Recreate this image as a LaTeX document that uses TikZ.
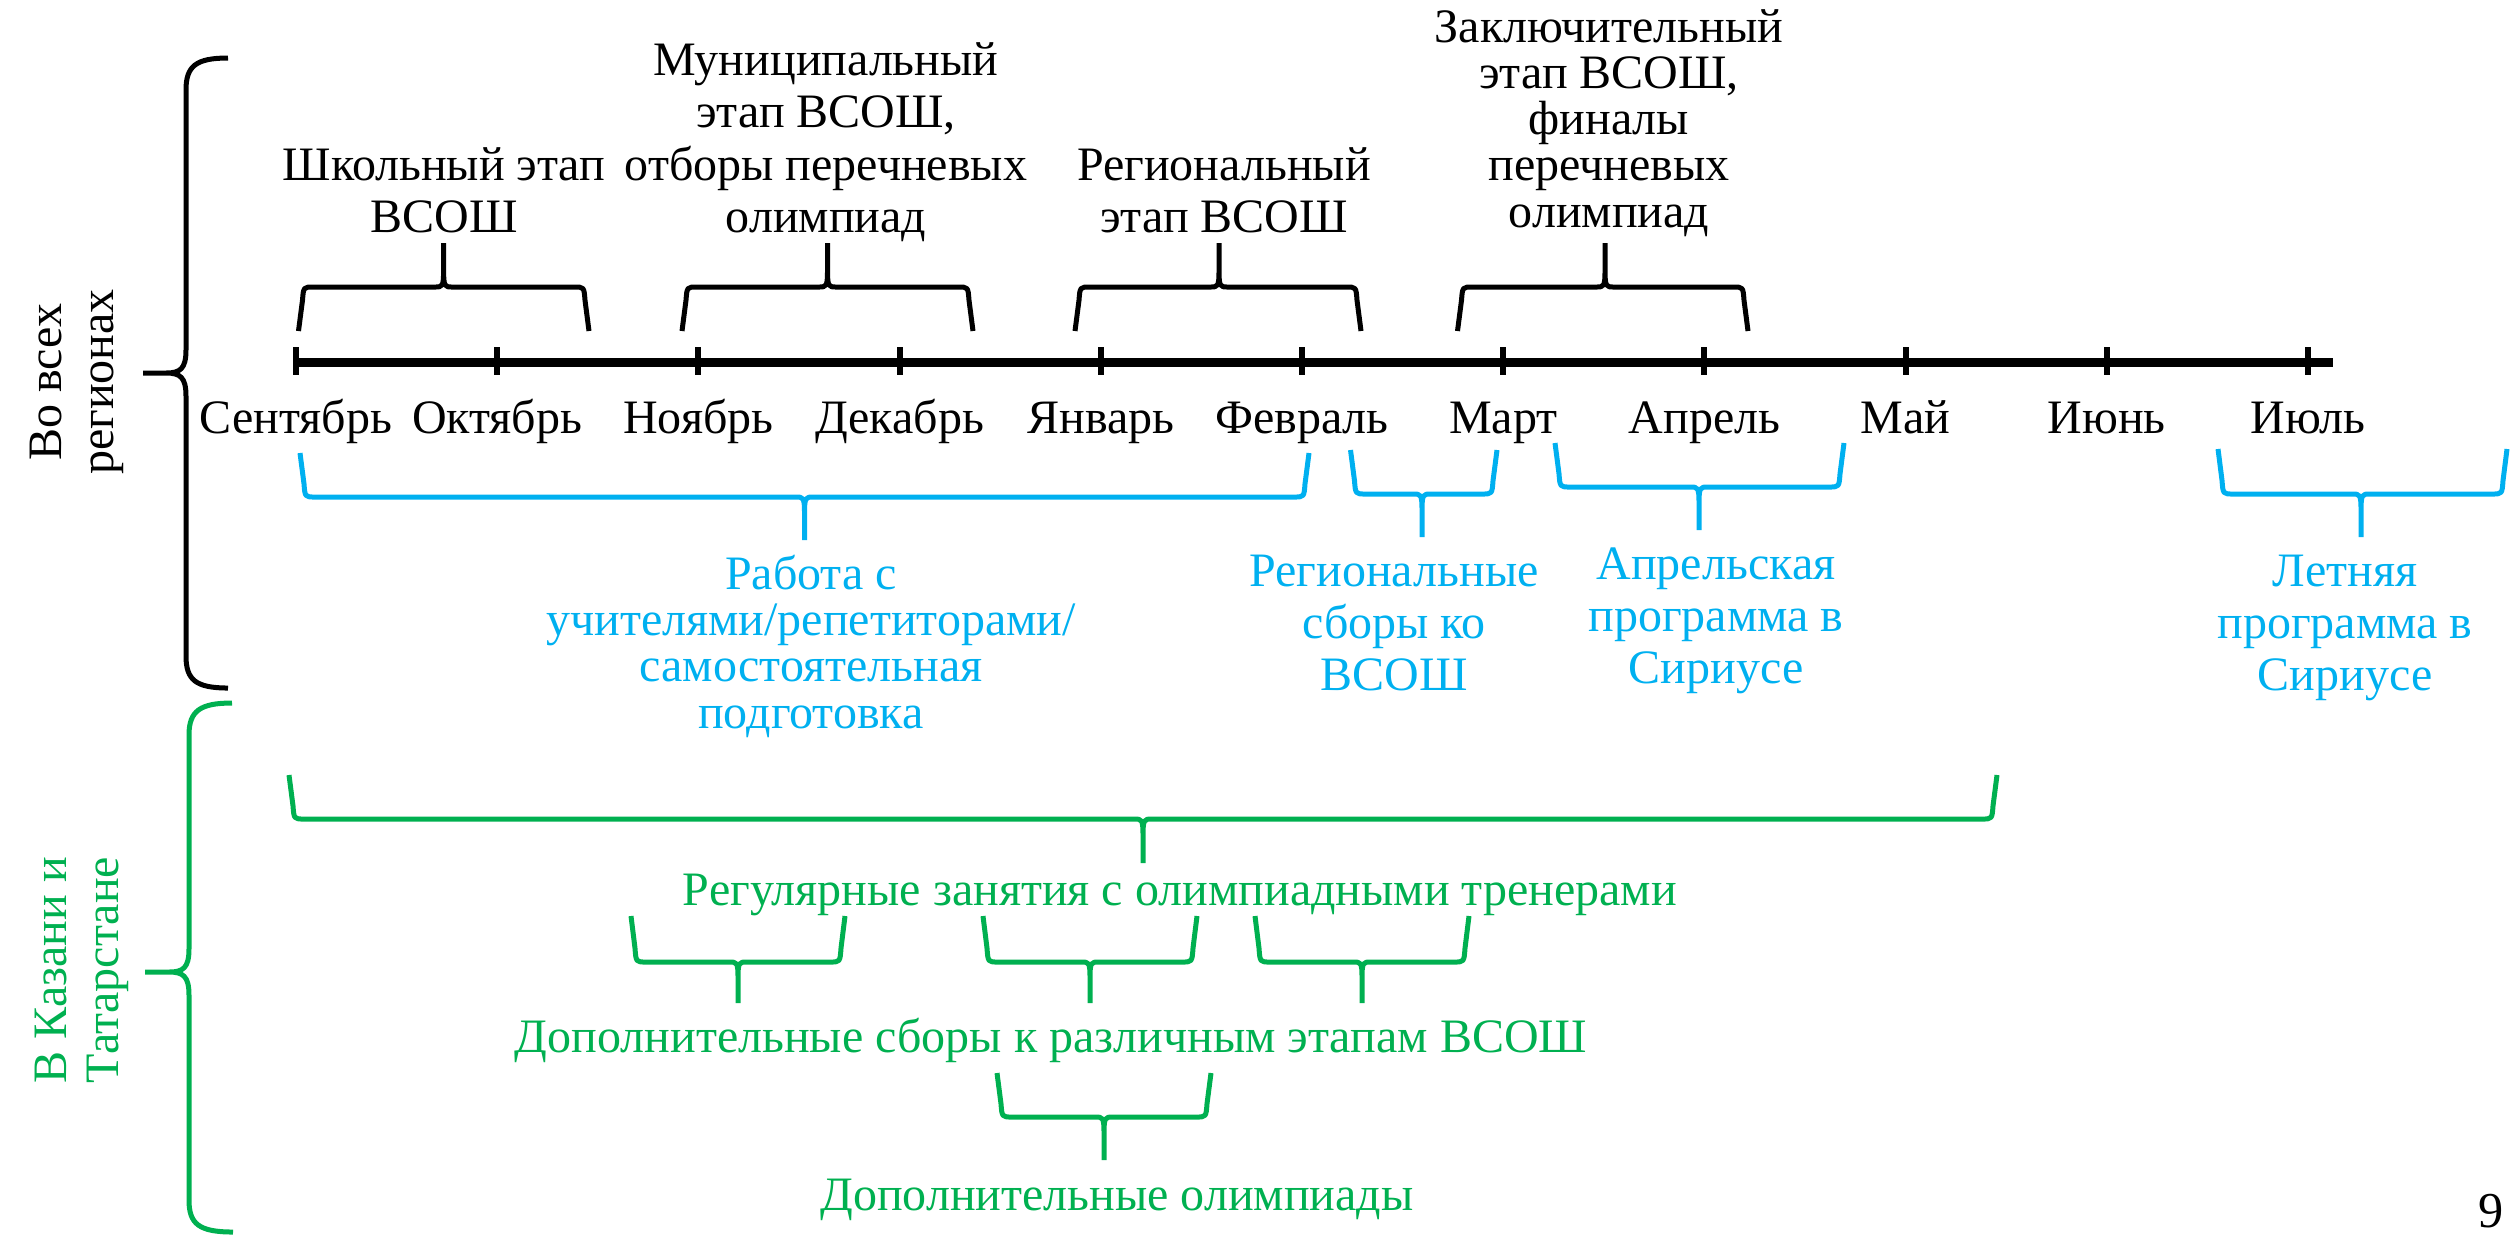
\documentclass[tikz,border=0pt]{standalone}
\usepackage{fontspec}
\setmainfont{Liberation Serif}
\usetikzlibrary{positioning}
\definecolor{skyblue}{HTML}{00B0F0}
\definecolor{leafgreen}{HTML}{00B050}

% #2 left x, #3 right x, #4 tip x, #5 end y, #6 bar y, #7 tip y
\newcommand{\timebrace}[7][black]{%
  \draw[curly,#1] (#2,#5) -- ({#2+0.4},{0.7*(#6)+0.3*(#5)})
    .. controls ({#2+0.5},#6) .. ({#2+1.5},#6) -- ({#4-0.9},#6)
    .. controls ({#4-0.1},#6) and (#4,#6) .. (#4,{0.6*(#6)+0.4*(#7)})
    .. controls (#4,#6) and ({#4+0.1},#6) .. ({#4+0.9},#6) -- ({#3-1.5},#6)
    .. controls ({#3-0.5},#6) .. ({#3-0.4},{0.7*(#6)+0.3*(#5)}) -- (#3,#5)
    (#4,{0.6*(#6)+0.4*(#7)}) -- (#4,#7);
}

\begin{document}
\begin{tikzpicture}[scale=0.1,
	curly/.style={line width=0.5mm, line join=round},
	label/.style={inner sep=0pt, anchor=base, align=center, font=\fontsize{13.66pt}{14.8pt}\selectfont},
	tight/.style={font=\fontsize{13.66pt}{13.1pt}\selectfont},
	month/.style={inner sep=0pt, anchor=base, font=\fontsize{13.66pt}{14.8pt}\selectfont},
	monthtick/.style={line width=0.6mm},
	timeaxis/.style={line width=0.9mm}]
	\useasboundingbox (0,0) rectangle (251.1,-123.4);
	% time line
	\coordinate (start) at (29.6,-36.2);
	\coordinate (stop) at (233.3,-36.2);
	\draw [timeaxis] (start) -- (stop);
	\foreach \mon [count=\i from 0] in {Сентябрь,Октябрь,Ноябрь,Декабрь,Январь,Февраль,Март,Апрель,Май,Июнь,Июль} {
		\draw [monthtick] ({29.6+20.12*\i},-34.7) -- ({29.6+20.12*\i},-37.5);
		\node [month] (mon\i) at ({29.6+20.12*\i},-43.3) {\mon};
	}
	% stages above the line (base = last line)
	\timebrace{29.85}{58.9}{44.36}{-33.1}{-28.7}{-24.3}
	\timebrace{68.2}{97.3}{82.75}{-33.1}{-28.7}{-24.3}
	\timebrace{107.5}{136.1}{121.9}{-33.1}{-28.7}{-24.3}
	\timebrace{145.75}{174.8}{160.5}{-33.1}{-28.7}{-24.3}
	\node [label] (school) at (44.4,-23.2) {Школьный этап\\ВСОШ};
	\node [label] (municip) at (82.6,-23.2) {Муниципальный\\этап ВСОШ,\\отборы перечневых\\олимпиад};
	\node [label] (region) at (122.4,-23.2) {Региональный\\этап ВСОШ};
	\node [label, tight] (final) at (160.9,-22.7) {Заключительный\\этап ВСОШ,\\финалы\\перечневых\\олимпиад};
	% preparation in all regions
	\timebrace[skyblue]{30.0}{130.9}{80.45}{-45.3}{-49.7}{-54.0}
	\timebrace[skyblue]{135.05}{149.7}{142.2}{-45.0}{-49.4}{-53.7}
	\timebrace[skyblue]{155.5}{184.4}{169.9}{-44.3}{-48.7}{-53.0}
	\timebrace[skyblue]{221.8}{250.7}{236.1}{-44.9}{-49.4}{-53.7}
	\node [label, tight, skyblue] (work) at (81.1,-72.8) {Работа с\\учителями/репетиторами/\\самостоятельная\\подготовка};
	\node [label, skyblue] (camps) at (139.4,-69.0) {Региональные\\сборы ко\\ВСОШ};
	\node [label, skyblue] (april) at (171.6,-68.3) {Апрельская\\программа в\\Сириусе};
	\node [label, skyblue] (summer) at (234.5,-69.0) {Летняя\\программа в\\Сириусе};
	% Kazan and Tatarstan
	\timebrace[leafgreen]{28.9}{199.7}{114.3}{-77.5}{-81.9}{-86.3}
	\timebrace[leafgreen]{63.1}{84.5}{73.8}{-91.6}{-96.2}{-100.3}
	\timebrace[leafgreen]{98.3}{119.7}{109.0}{-91.6}{-96.2}{-100.3}
	\timebrace[leafgreen]{125.5}{146.9}{136.2}{-91.6}{-96.2}{-100.3}
	\timebrace[leafgreen]{99.7}{121.1}{110.4}{-107.3}{-111.7}{-116.0}
	\node [label, leafgreen] (regular) at (118.0,-90.5) {Регулярные занятия с олимпиадными тренерами};
	\node [label, leafgreen] (extra) at (105.1,-105.2) {Дополнительные сборы к различным этапам ВСОШ};
	\node [label, leafgreen] (olymp) at (111.7,-121.0) {Дополнительные олимпиады};
	% side braces
	\draw [curly] (22.8,-5.8) .. controls (19.6,-5.8) and (18.6,-6.6) .. (18.6,-9.0) -- (18.6,-35.0)
		.. controls (18.6,-36.9) and (18.0,-37.3) .. (16.6,-37.3) -- (14.3,-37.3)
		(16.6,-37.3) .. controls (18.0,-37.3) and (18.6,-37.7) .. (18.6,-39.6) -- (18.6,-65.6)
		.. controls (18.6,-68.0) and (19.6,-68.8) .. (22.8,-68.8);
	\draw [curly, leafgreen] (23.2,-70.3) .. controls (20.0,-70.3) and (18.9,-71.1) .. (18.9,-73.5) -- (18.9,-94.9)
		.. controls (18.9,-96.8) and (18.3,-97.2) .. (16.9,-97.2) -- (14.5,-97.2)
		(16.9,-97.2) .. controls (18.3,-97.2) and (18.9,-97.6) .. (18.9,-99.5) -- (18.9,-120.0)
		.. controls (18.9,-122.4) and (19.9,-123.2) .. (23.3,-123.2);
	\node [label, anchor=center, rotate=90] (allreg) at (7.65,-38.2) {Во всех\\регионах};
	\node [label, anchor=center, rotate=90, leafgreen] (kazan) at (8.2,-97.0) {В Казани и\\Татарстане};
	% slide number
	\node [inner sep=0pt, anchor=north, font=\fontsize{14.3pt}{16pt}\selectfont] (pageno) at (249.15,-119.3) {9};
\end{tikzpicture}
\end{document}
